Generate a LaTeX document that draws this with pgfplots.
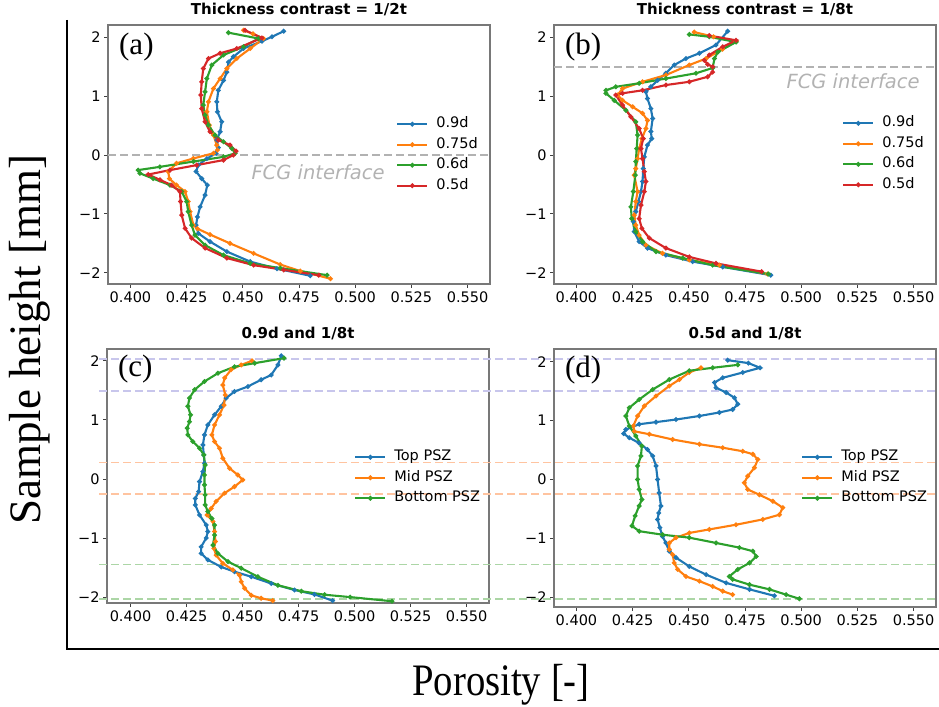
\documentclass[border=0pt]{standalone}
\usepackage{fontspec}
\setmainfont{DejaVu Sans}
\newfontfamily\serif{Liberation Serif}
\usepackage{pgfplots}
\pgfplotsset{compat=1.18}
\definecolor{tabblue}{HTML}{1F77B4}
\definecolor{taborange}{HTML}{FF7F0E}
\definecolor{tabgreen}{HTML}{2CA02C}
\definecolor{tabred}{HTML}{D62728}
\definecolor{lav}{RGB}{200,198,236}
\definecolor{lor}{RGB}{255,196,160}
\definecolor{lgr}{RGB}{172,214,166}
\definecolor{fcg}{RGB}{178,178,178}
\definecolor{frame}{RGB}{120,120,120}
\tikzset{
  lab/.style={anchor=base west, font=\serif\fontsize{31bp}{31bp}\selectfont},
  fcgtext/.style={anchor=base west, text=fcg, font=\itshape\fontsize{19.5bp}{20bp}\selectfont},
}
\pgfplotsset{
  panel/.style={
    scale only axis, width=382bp,
    xmin=0.39, xmax=0.56,
    xtick={0.4,0.425,0.45,0.475,0.5,0.525,0.55},
    xticklabels={0.400,0.425,0.450,0.475,0.500,0.525,0.550},
    ytick={-2,-1,0,1,2}, yticklabels={−2,−1,0,1,2},
    tick align=outside, major tick length=4bp,
    xtick pos=left, ytick pos=left,
    axis line style={frame, line width=1.2bp},
    every tick/.style={black!75, line width=0.9bp},
    ticklabel style={font=\fontsize{14.5bp}{16bp}\selectfont},
    title style={font=\bfseries\fontsize{15bp}{17bp}\selectfont, at={(0.5,1)}, anchor=base, yshift=4.5bp},
    legend cell align=left,
    legend style={draw=none, fill=none, anchor=north west, inner sep=0pt,
      font=\fontsize{14.5bp}{16bp}\selectfont, row sep=2.5bp,
      nodes={inner sep=2bp, text height=10.5bp, text depth=3.5bp},
      /tikz/every odd column/.append style={column sep=6bp}},
    legend image code/.code={\draw[#1, mark repeat=2, mark phase=2] plot coordinates {(0bp,0bp) (15bp,0bp) (30bp,0bp)};},
  },
  curve/.style={line width=2.1bp, mark=*, mark size=1.2bp, mark options={solid}},
  refline/.style={line width=1.6bp, dash pattern=on 7.5bp off 4.5bp, forget plot},
}
\begin{document}
\begin{tikzpicture}
\useasboundingbox (0,0) rectangle (939bp,707bp);
% ---------------- (a)
\begin{axis}[panel, at={(108bp,423bp)}, anchor=south west, height=259bp,
  ymin=-2.19, ymax=2.21, title={Thickness contrast = 1/2t},
  legend style={at={(0.754,0.6525)}}]
\addplot[refline, fcg] coordinates {(0.39,0) (0.56,0)};
\addplot[curve, tabblue] coordinates {(0.4682,2.105) (0.463,2.01) (0.4585,1.935) (0.4503,1.81) (0.4458,1.67) (0.4436,1.58) (0.4429,1.41) (0.4414,1.27) (0.4391,1.10) (0.4384,0.905) (0.4387,0.736) (0.4406,0.566) (0.4399,0.396) (0.4384,0.255) (0.4391,0.125) (0.4381,0.03) (0.434,-0.06) (0.4302,-0.17) (0.4292,-0.28) (0.4317,-0.40) (0.4342,-0.51) (0.4332,-0.68) (0.431,-0.88) (0.4298,-1.05) (0.4292,-1.19) (0.4302,-1.33) (0.4354,-1.47) (0.4429,-1.64) (0.4533,-1.81) (0.4652,-1.93) (0.480,-2.05)};
\addplot[curve, taborange] coordinates {(0.4503,2.12) (0.4545,2.06) (0.4592,1.98) (0.4533,1.81) (0.4473,1.64) (0.4429,1.47) (0.4399,1.30) (0.4369,1.13) (0.4347,0.905) (0.434,0.736) (0.4351,0.51) (0.4369,0.34) (0.4384,0.17) (0.4387,0.085) (0.4369,0.03) (0.428,-0.057) (0.4205,-0.14) (0.4168,-0.28) (0.4173,-0.40) (0.4205,-0.51) (0.4243,-0.62) (0.4257,-0.79) (0.4265,-0.96) (0.428,-1.19) (0.4298,-1.25) (0.4354,-1.35) (0.4443,-1.50) (0.4548,-1.67) (0.4667,-1.86) (0.4756,-1.97) (0.489,-2.10)};
\addplot[curve, tabgreen] coordinates {(0.4436,2.08) (0.457,1.98) (0.4503,1.84) (0.4414,1.70) (0.4362,1.53) (0.434,1.30) (0.4332,1.075) (0.4324,0.85) (0.4332,0.68) (0.4347,0.51) (0.4376,0.34) (0.4414,0.226) (0.4451,0.113) (0.4466,0.03) (0.4414,-0.03) (0.428,-0.11) (0.4131,-0.20) (0.4034,-0.255) (0.4042,-0.31) (0.4101,-0.40) (0.4176,-0.51) (0.4228,-0.62) (0.425,-0.79) (0.4257,-0.96) (0.4272,-1.19) (0.4287,-1.36) (0.4332,-1.53) (0.4414,-1.70) (0.4533,-1.84) (0.4667,-1.92) (0.4875,-2.04)};
\addplot[curve, tabred] coordinates {(0.451,2.12) (0.4585,1.99) (0.4473,1.81) (0.4399,1.73) (0.4347,1.64) (0.4324,1.47) (0.4317,1.245) (0.4313,1.02) (0.4317,0.79) (0.4332,0.566) (0.4354,0.396) (0.4391,0.255) (0.4443,0.17) (0.447,0.068) (0.4458,0.0) (0.4414,-0.085) (0.4295,-0.17) (0.4176,-0.255) (0.4079,-0.33) (0.4131,-0.42) (0.4183,-0.51) (0.422,-0.62) (0.4223,-0.79) (0.4228,-1.02) (0.4243,-1.245) (0.4272,-1.41) (0.4332,-1.58) (0.4429,-1.75) (0.4548,-1.87) (0.4682,-1.95) (0.4838,-2.04)};
\legend{0.9d,0.75d,0.6d,0.5d}
\node[lab] at (rel axis cs:0.02,0.888) {(a)};
\node[fcgtext] at (rel axis cs:0.3665,0.405) {FCG interface};
\end{axis}
% ---------------- (b)
\begin{axis}[panel, at={(554bp,423bp)}, anchor=south west, height=259bp,
  ymin=-2.19, ymax=2.21, title={Thickness contrast = 1/8t},
  legend style={at={(0.754,0.656)}}]
\addplot[refline, fcg] coordinates {(0.39,1.5) (0.56,1.5)};
\addplot[curve, tabblue] coordinates {(0.4673,2.105) (0.4621,1.87) (0.4547,1.73) (0.4487,1.64) (0.4435,1.53) (0.4398,1.39) (0.4361,1.27) (0.4331,1.16) (0.4309,1.075) (0.4316,0.96) (0.4331,0.79) (0.4339,0.62) (0.4331,0.40) (0.4335,0.28) (0.4316,0.17) (0.4302,-0.03) (0.4297,-0.23) (0.4294,-0.45) (0.4287,-0.62) (0.4276,-0.79) (0.4264,-0.96) (0.4253,-1.13) (0.4257,-1.30) (0.4279,-1.47) (0.4316,-1.58) (0.4398,-1.70) (0.4517,-1.81) (0.4651,-1.90) (0.4865,-2.04)};
\addplot[curve, taborange] coordinates {(0.4524,2.09) (0.4610,2.01) (0.471,1.93) (0.4650,1.80) (0.4577,1.64) (0.4502,1.53) (0.4398,1.36) (0.4294,1.245) (0.4205,1.13) (0.4183,1.02) (0.4205,0.93) (0.425,0.82) (0.4294,0.71) (0.4316,0.59) (0.4309,0.45) (0.4291,0.28) (0.4279,0.11) (0.4272,-0.06) (0.4264,-0.23) (0.4257,-0.34) (0.4272,-0.62) (0.4264,-0.79) (0.4257,-1.02) (0.4264,-1.19) (0.4279,-1.36) (0.4309,-1.53) (0.4383,-1.67) (0.4502,-1.78) (0.4636,-1.87) (0.4850,-2.02)};
\addplot[curve, tabgreen] coordinates {(0.4502,2.05) (0.4591,2.01) (0.471,1.92) (0.4629,1.75) (0.4614,1.64) (0.4606,1.48) (0.4532,1.39) (0.4398,1.30) (0.4279,1.22) (0.4175,1.16) (0.4131,1.10) (0.4131,1.05) (0.4168,0.93) (0.422,0.76) (0.4264,0.566) (0.4272,0.34) (0.4268,0.11) (0.4264,-0.11) (0.4262,-0.34) (0.4253,-0.62) (0.4242,-0.88) (0.4246,-1.08) (0.4264,-1.30) (0.4294,-1.47) (0.4354,-1.64) (0.4473,-1.75) (0.4606,-1.87) (0.4854,-2.02)};
\addplot[curve, tabred] coordinates {(0.4591,2.03) (0.471,1.95) (0.4651,1.84) (0.4591,1.70) (0.4569,1.61) (0.4584,1.54) (0.4606,1.50) (0.4606,1.41) (0.4584,1.33) (0.4502,1.245) (0.4398,1.19) (0.4294,1.10) (0.4205,1.05) (0.4175,1.02) (0.4205,0.85) (0.4242,0.65) (0.4279,0.45) (0.4297,0.28) (0.4287,0.11) (0.4294,-0.06) (0.4302,-0.28) (0.4309,-0.45) (0.4302,-0.62) (0.4287,-0.85) (0.4279,-1.08) (0.4291,-1.245) (0.4324,-1.41) (0.4398,-1.58) (0.4502,-1.73) (0.4621,-1.84) (0.4824,-1.98)};
\legend{0.9d,0.75d,0.6d,0.5d}
\node[lab] at (rel axis cs:0.02,0.888) {(b)};
\node[fcgtext] at (rel axis cs:0.5995,0.753) {FCG interface};
\end{axis}
% ---------------- (c)
\begin{axis}[panel, at={(107bp,104bp)}, anchor=south west, height=254bp,
  xmin=0.3895, ymin=-2.10, ymax=2.20, title={0.9d and 1/8t}, clip=false,
  legend style={at={(0.647,0.610)}}]
\addplot[refline, lav] coordinates {(0.386,2.03) (0.76,2.03)};
\addplot[refline, lav] coordinates {(0.386,1.49) (0.76,1.49)};
\addplot[refline, lor] coordinates {(0.386,0.28) (0.76,0.28)};
\addplot[refline, lor] coordinates {(0.386,-0.25) (0.76,-0.25)};
\addplot[refline, lgr] coordinates {(0.386,-1.45) (0.76,-1.45)};
\addplot[refline, lgr] coordinates {(0.386,-2.03) (0.76,-2.03)};
\addplot[curve, tabblue] coordinates {(0.4673,2.085) (0.4658,1.93) (0.4628,1.76) (0.4583,1.68) (0.4524,1.565) (0.4464,1.48) (0.4427,1.37) (0.4405,1.23) (0.4375,1.085) (0.4345,0.915) (0.433,0.746) (0.4323,0.576) (0.4327,0.407) (0.433,0.266) (0.4323,0.124) (0.4308,-0.045) (0.4304,-0.215) (0.4289,-0.33) (0.4289,-0.44) (0.4308,-0.61) (0.4338,-0.78) (0.4345,-0.89) (0.4338,-1.0) (0.4315,-1.15) (0.4315,-1.26) (0.4345,-1.37) (0.4405,-1.49) (0.4464,-1.57) (0.4539,-1.655) (0.4628,-1.77) (0.4732,-1.88) (0.4821,-1.955) (0.4902,-2.06)};
\addplot[curve, taborange] coordinates {(0.4542,2.0) (0.4494,1.93) (0.4449,1.85) (0.442,1.71) (0.4412,1.59) (0.4423,1.42) (0.4417,1.25) (0.4397,1.085) (0.4375,0.915) (0.4363,0.746) (0.4375,0.633) (0.4397,0.52) (0.4412,0.35) (0.4442,0.18) (0.4479,0.068) (0.4501,-0.017) (0.4464,-0.13) (0.442,-0.24) (0.4382,-0.38) (0.436,-0.50) (0.4342,-0.61) (0.4368,-0.72) (0.4375,-0.89) (0.4379,-1.06) (0.4372,-1.175) (0.4382,-1.29) (0.4412,-1.43) (0.4457,-1.54) (0.4487,-1.63) (0.4494,-1.74) (0.4509,-1.85) (0.4539,-1.97) (0.4583,-2.02) (0.4635,-2.06)};
\addplot[curve, tabgreen] coordinates {(0.4685,2.045) (0.4554,1.96) (0.4464,1.90) (0.439,1.79) (0.433,1.65) (0.4286,1.51) (0.4263,1.37) (0.4256,1.23) (0.4268,1.085) (0.4263,0.97) (0.4253,0.86) (0.4256,0.746) (0.4278,0.633) (0.4308,0.52) (0.4327,0.407) (0.4333,0.237) (0.433,0.068) (0.433,-0.10) (0.4333,-0.27) (0.4333,-0.44) (0.4345,-0.55) (0.4363,-0.67) (0.4375,-0.78) (0.4375,-0.95) (0.4368,-1.12) (0.439,-1.26) (0.4435,-1.40) (0.4494,-1.51) (0.4568,-1.655) (0.4658,-1.80) (0.4762,-1.90) (0.4866,-1.96) (0.4980,-2.00) (0.5167,-2.07)};
\legend{Top PSZ,Mid PSZ,Bottom PSZ}
\node[lab] at (rel axis cs:0.02,0.89) {(c)};
\end{axis}
% ---------------- (d)
\begin{axis}[panel, at={(554bp,100bp)}, anchor=south west, height=258bp,
  ymin=-2.17, ymax=2.22, title={0.5d and 1/8t},
  legend style={at={(0.647,0.616)}}]
\addplot[curve, tabblue] coordinates {(0.4673,2.03) (0.4765,1.98) (0.4817,1.90) (0.474,1.82) (0.4651,1.73) (0.4614,1.65) (0.4621,1.56) (0.4666,1.48) (0.4703,1.39) (0.4718,1.28) (0.4695,1.19) (0.4636,1.14) (0.4547,1.08) (0.4443,1.02) (0.4354,0.976) (0.4279,0.94) (0.422,0.85) (0.421,0.78) (0.4235,0.71) (0.4279,0.62) (0.4316,0.51) (0.4339,0.40) (0.4354,0.23) (0.4361,0.0) (0.4368,-0.23) (0.4376,-0.45) (0.4366,-0.57) (0.4361,-0.68) (0.4371,-0.82) (0.4383,-0.97) (0.4398,-1.08) (0.4413,-1.22) (0.4443,-1.33) (0.4502,-1.48) (0.4577,-1.62) (0.4666,-1.76) (0.477,-1.87) (0.4881,-1.98)};
\addplot[curve, taborange] coordinates {(0.4554,1.90) (0.4502,1.82) (0.4458,1.70) (0.4413,1.59) (0.4354,1.42) (0.4302,1.25) (0.4272,1.08) (0.4253,0.91) (0.4257,0.82) (0.4324,0.77) (0.4428,0.68) (0.4547,0.60) (0.4651,0.54) (0.474,0.48) (0.4785,0.43) (0.4807,0.34) (0.4792,0.20) (0.4762,0.057) (0.4747,-0.057) (0.4762,-0.17) (0.4814,-0.26) (0.4874,-0.37) (0.4918,-0.48) (0.4903,-0.60) (0.4829,-0.68) (0.471,-0.77) (0.4591,-0.85) (0.4502,-0.91) (0.4443,-0.99) (0.4413,-1.08) (0.4413,-1.19) (0.4428,-1.28) (0.4435,-1.42) (0.445,-1.53) (0.4487,-1.65) (0.4547,-1.73) (0.4606,-1.82) (0.4651,-1.90) (0.4695,-1.96)};
\addplot[curve, tabgreen] coordinates {(0.4718,1.95) (0.4606,1.90) (0.4502,1.85) (0.4413,1.70) (0.4339,1.53) (0.4279,1.36) (0.4235,1.22) (0.422,1.08) (0.4235,0.91) (0.4264,0.74) (0.4291,0.57) (0.4287,0.40) (0.4272,0.23) (0.4272,0.0) (0.4279,-0.17) (0.4291,-0.34) (0.4279,-0.45) (0.4261,-0.62) (0.4247,-0.79) (0.4279,-0.88) (0.4383,-0.94) (0.4502,-0.99) (0.4621,-1.08) (0.4725,-1.16) (0.4785,-1.22) (0.48,-1.31) (0.477,-1.42) (0.4718,-1.53) (0.468,-1.65) (0.4695,-1.70) (0.477,-1.79) (0.4859,-1.87) (0.4933,-1.96) (0.4992,-2.03)};
\legend{Top PSZ,Mid PSZ,Bottom PSZ}
\node[lab] at (rel axis cs:0.02,0.89) {(d)};
\end{axis}
% ---------------- outer frame and labels
\draw[line width=1.6bp] (67bp,687bp) -- (67bp,58bp) -- (939bp,58bp);
\node[rotate=90, font=\serif\fontsize{45bp}{45bp}\selectfont] at (30bp,367bp) {Sample height [mm]};
\node[font=\serif\fontsize{45bp}{45bp}\selectfont, xscale=0.86] at (501bp,22bp) {Porosity [-]};
\end{tikzpicture}
\end{document}
